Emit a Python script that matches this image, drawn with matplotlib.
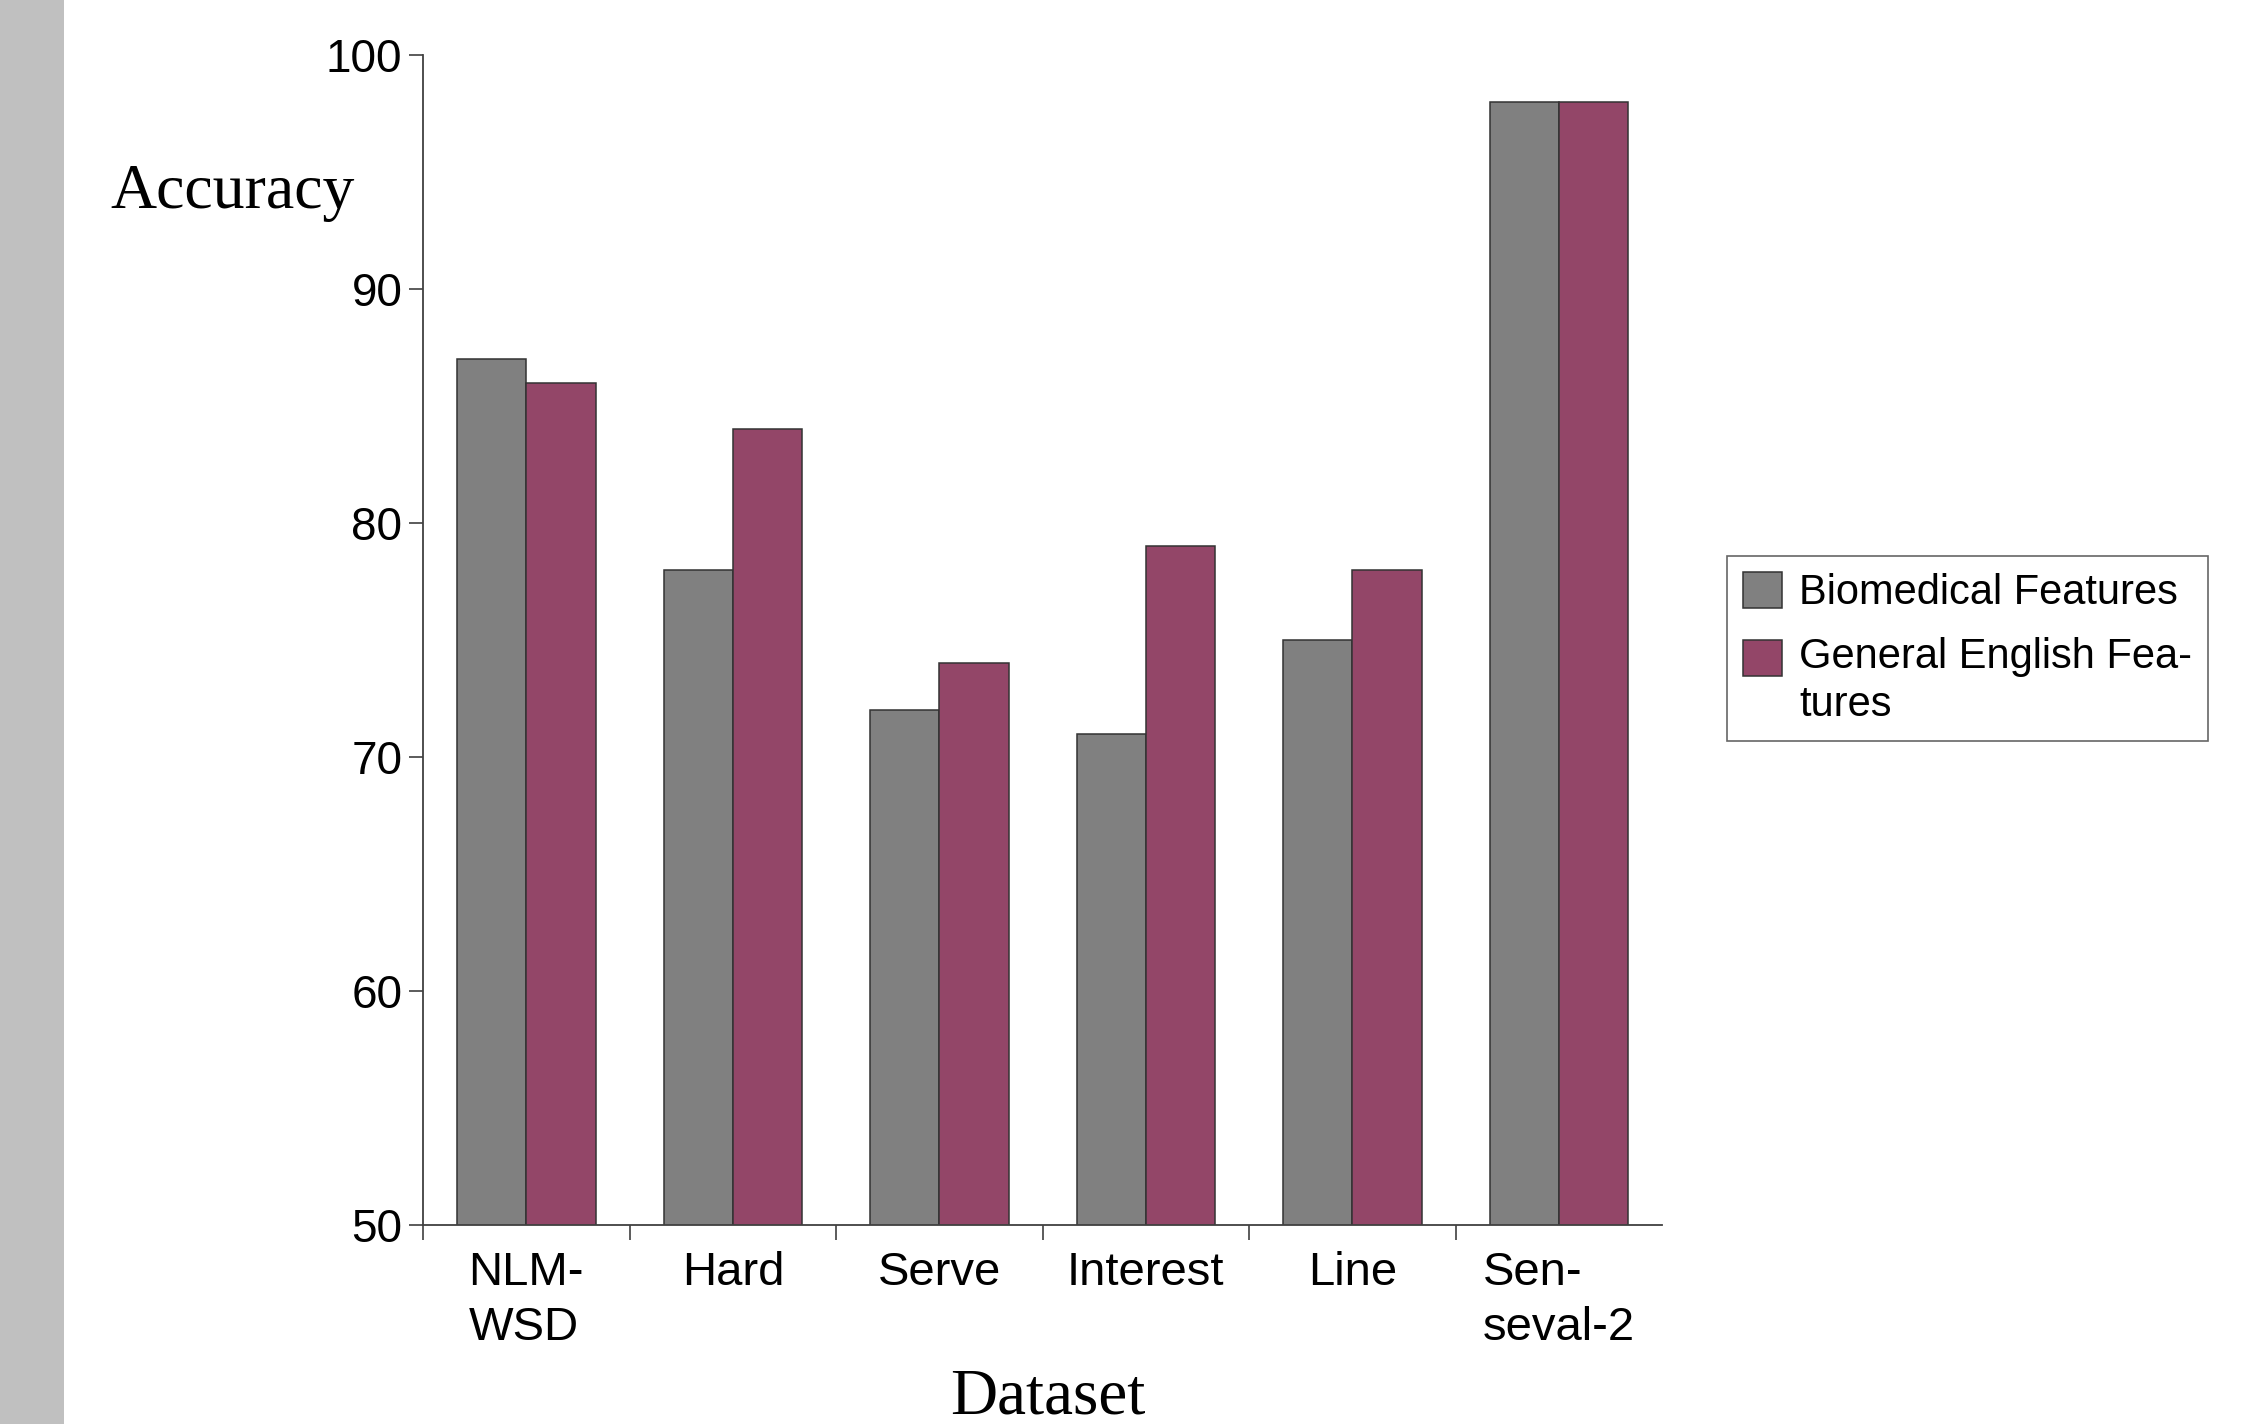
import numpy as np
import matplotlib.pyplot as plt
from matplotlib.patches import Rectangle
from matplotlib.legend_handler import HandlerPatch

# data
datasets = ['NLM-\nWSD', 'Hard', 'Serve', 'Interest', 'Line', 'Sen-\nseval-2']
biomedical = [87, 78, 72, 71, 75, 98]
general_english = [86, 84, 74, 79, 78, 98]
series_names = ['Biomedical Features', 'General English Fea-\ntures']

plt.rcParams['font.family'] = ['Liberation Sans', 'DejaVu Sans']


class TopHandler(HandlerPatch):
    # keep the legend swatch level with the first line of a two-line label
    def __init__(self, shift, **kw):
        super().__init__(**kw)
        self.shift = shift

    def create_artists(self, legend, orig_handle, xdescent, ydescent,
                       width, height, fontsize, trans):
        arts = super().create_artists(legend, orig_handle, xdescent, ydescent,
                                      width, height, fontsize, trans)
        for a in arts:
            a.set_y(a.get_y() + self.shift)
        return arts


fig = plt.figure(figsize=(22.47, 14.24), dpi=100)
# grey strip on the left edge
fig.patches.append(Rectangle((0, 0), 0.0285, 1, transform=fig.transFigure,
                             facecolor='#c0c0c0', edgecolor='none', zorder=0))

ax = fig.add_axes([0.1883, 0.1397, 0.7397 - 0.1883, 0.9614 - 0.1397])

x = np.arange(len(datasets)) + 0.5
w = 0.335
b1 = ax.bar(x - w / 2, biomedical, w, color='#808080', edgecolor='#333333',
            linewidth=1.1)
b2 = ax.bar(x + w / 2, general_english, w, color='#934668', edgecolor='#333333',
            linewidth=1.1)

ax.set_xlim(0, len(datasets))
ax.set_ylim(50, 100)
ax.set_yticks([50, 60, 70, 80, 90, 100])
ax.set_xticks(x)
ax.set_xticklabels(datasets, multialignment='left', linespacing=1.3)
ax.set_xticks(np.arange(len(datasets)), minor=True)
ax.tick_params(axis='x', which='major', length=0, pad=19, labelsize=34)
ax.tick_params(axis='x', which='minor', length=11, width=1.2, color='#404040')
ax.tick_params(axis='y', length=10, width=1.2, color='#404040', pad=5,
               labelsize=33)

for s in ['top', 'right']:
    ax.spines[s].set_visible(False)
for s in ['left', 'bottom']:
    ax.spines[s].set_color('#404040')
    ax.spines[s].set_linewidth(1.3)

fig.text(0.049, 0.8645, 'Accuracy', family='Liberation Serif', fontsize=46,
         va='center', ha='left')
fig.text(0.4664, 0.0077, 'Dataset', family='Liberation Serif', fontsize=47,
         va='baseline', ha='center')

h1, h2 = b1.patches[0], b2.patches[0]
leg = ax.legend(handles=[h1, h2], labels=series_names,
                loc='upper left', bbox_to_anchor=(1727 / 2247, 1 - 556 / 1424),
                bbox_transform=fig.transFigure, fontsize=30, frameon=True,
                fancybox=False, handlelength=0.95, handleheight=0.95,
                handletextpad=0.4, borderpad=0.38, labelspacing=0.58,
                borderaxespad=0,
                handler_map={h2: TopHandler(shift=17.5)})
for t in leg.get_texts():
    t.set_linespacing(1.25)
leg.get_frame().set_edgecolor('#404040')
leg.get_frame().set_linewidth(1.2)

fig.savefig('out.png', dpi=100)
